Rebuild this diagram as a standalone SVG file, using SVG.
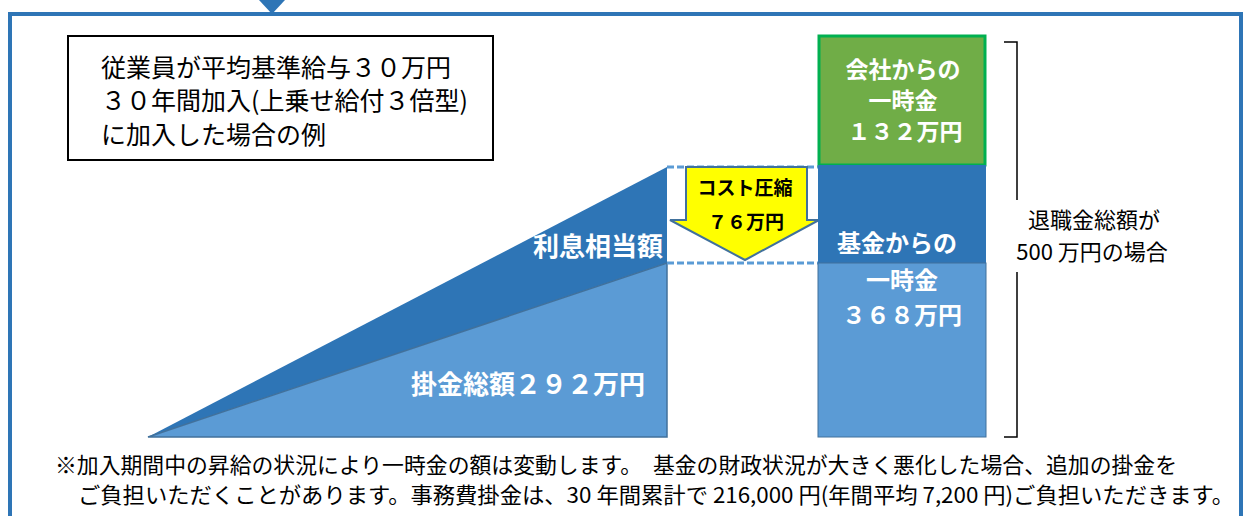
<svg xmlns="http://www.w3.org/2000/svg" width="1247" height="516" viewBox="0 0 1247 516">
<style>
.jp{font-family:"Noto Sans CJK JP","Noto Sans",sans-serif;}
.w{fill:#fff;font-weight:bold;}
.k{fill:#000;}
.dash{stroke:#5B9BD5;stroke-width:3;stroke-dasharray:7 3;fill:none;}
</style>
<rect width="1247" height="516" fill="#fff"/>
<g id="frame">
<rect x="10" y="14" width="1231" height="520" fill="none" stroke="#2E75B6" stroke-width="4"/>
<polygon points="259,0 285,0 272,14" fill="#2E75B6"/>
</g>
<g id="note-box">
<rect x="68" y="36" width="425" height="124" fill="#fff" stroke="#000" stroke-width="2"/>
<text class="jp k" font-size="25" x="101" y="77">従業員が平均基準給与３０万円</text>
<text class="jp k" font-size="25" x="101" y="110">３０年間加入(上乗せ給付３倍型)</text>
<text class="jp k" font-size="25" x="101" y="144">に加入した場合の例</text>
</g>
<g id="interest">
<polygon points="148,437 667,167 667,263" fill="#2E75B6"/>
<text class="jp w" font-size="26" x="663" y="256" text-anchor="end">利息相当額</text>
</g>
<g id="contrib">
<polygon points="148,437 667,263 667,437" fill="#5B9BD5" stroke="#41719C" stroke-width="1.5"/>
<text class="jp w" font-size="26" x="645" y="394" text-anchor="end">掛金総額２９２万円</text>
</g>
<g id="connectors">
<line class="dash" x1="667" y1="167" x2="818" y2="167"/>
<line class="dash" x1="667" y1="263" x2="818" y2="263"/>
</g>
<g id="cost-arrow">
<polygon points="686,167 807,167 807,220 819,220 745,260 670,220 686,220" fill="#FFFF00" stroke="#41719C" stroke-width="2"/>
<text class="jp k" font-weight="bold" font-size="19" x="745" y="195" text-anchor="middle">コスト圧縮</text>
<text class="jp k" font-weight="bold" font-size="19" x="746" y="229" text-anchor="middle">７６万円</text>
</g>
<g id="company">
<rect x="819" y="36" width="166" height="129" fill="#70AD47" stroke="#00B050" stroke-width="3"/>
<text class="jp w" font-size="23" x="903" y="78" text-anchor="middle">会社からの</text>
<text class="jp w" font-size="23" x="903" y="109" text-anchor="middle">一時金</text>
<text class="jp w" font-size="23" x="905" y="140" text-anchor="middle">１３２万円</text>
</g>
<g id="fund">
<rect x="818" y="165" width="168" height="98" fill="#2E75B6"/>
<rect x="818" y="263" width="168" height="174" fill="#5B9BD5" stroke="#41719C" stroke-width="1"/>
<text class="jp w" font-size="24" x="897" y="252" text-anchor="middle">基金からの</text>
<text class="jp w" font-size="24" x="902" y="289" text-anchor="middle">一時金</text>
<text class="jp w" font-size="24" x="902" y="324" text-anchor="middle">３６８万円</text>
</g>
<g id="total">
<path d="M1004,42 H1017 V200 M1017,272 V437 H1004" fill="none" stroke="#000" stroke-width="1.5"/>
<text class="jp k" font-size="22" x="1094" y="228" text-anchor="middle">退職金総額が</text>
<text class="jp k" font-size="22" x="1092" y="260" text-anchor="middle">500 万円の場合</text>
</g>
<g id="footnote">
<text class="jp k" font-size="21.5" x="55" y="473" textLength="1122" lengthAdjust="spacingAndGlyphs">※加入期間中の昇給の状況により一時金の額は変動します。　基金の財政状況が大きく悪化した場合、追加の掛金を</text>
<text class="jp k" font-size="21.5" x="78" y="503" textLength="1156" lengthAdjust="spacingAndGlyphs">ご負担いただくことがあります。事務費掛金は、30 年間累計で 216,000 円(年間平均 7,200 円)ご負担いただきます。</text>
</g>
</svg>
